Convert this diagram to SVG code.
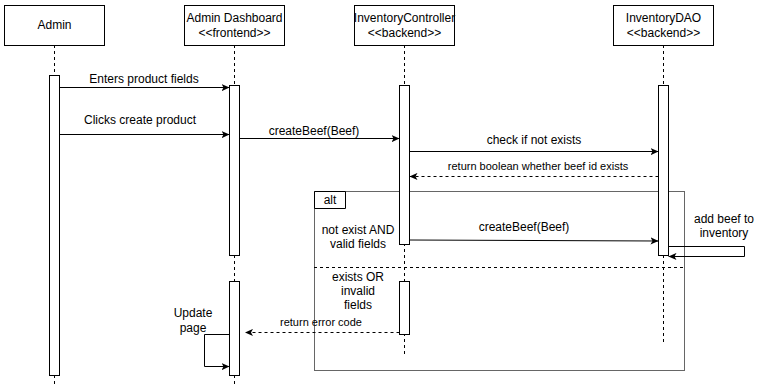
<svg xmlns="http://www.w3.org/2000/svg" width="762" height="391" viewBox="0 0 762 391">
  <defs>
    <style>
      .head{fill:#fff;stroke:#000;stroke-width:1}
      .life{fill:none;stroke:#000;stroke-width:1;stroke-dasharray:3 3}
      .act{fill:#fff;stroke:#000;stroke-width:1}
      .t{font-family:"Liberation Sans",Arial,Helvetica,sans-serif;font-size:12px;fill:#000;text-anchor:middle}
      .s{font-size:11px}
      .msg{fill:none;stroke:#000;stroke-width:1;marker-end:url(#arr)}
      .ret{fill:none;stroke:#000;stroke-width:1;stroke-dasharray:3 3;marker-end:url(#arr)}
      .frame{fill:none;stroke:#666;stroke-width:1}
      .sep{fill:none;stroke:#000;stroke-width:1;stroke-dasharray:3 3}
    </style>
    <marker id="arr" viewBox="0 0 10 10" refX="10" refY="5" markerWidth="8" markerHeight="8" markerUnits="userSpaceOnUse" orient="auto">
      <path d="M0,0.5 L10,5 L0,9.5 L2.5,5 Z" fill="#000"/>
    </marker>
  </defs>

  <!-- alt combined fragment -->
  <g id="alt-fragment">
    <rect class="frame" x="314.5" y="191.5" width="370" height="179"/>
    <path d="M314.5,191.5 H345.5 V208.5 H314.5 Z" fill="#fff" stroke="#000"/>
    <text class="t" x="330" y="204">alt</text>
    <line class="sep" x1="314" y1="267.5" x2="684" y2="267.5"/>
    <text class="t" x="358" y="234">not exist AND</text>
    <text class="t" x="358" y="248">valid fields</text>
    <text class="t" x="358" y="281">exists OR</text>
    <text class="t" x="358" y="295">invalid</text>
    <text class="t" x="358" y="309">fields</text>
  </g>

  <!-- participants -->
  <g id="admin">
    <line class="life" x1="54.5" y1="45" x2="54.5" y2="386"/>
    <rect class="head" x="4.5" y="5.5" width="100" height="40"/>
    <text class="t" x="54.5" y="29">Admin</text>
    <rect class="act" x="49.5" y="75.5" width="10" height="300"/>
  </g>

  <g id="admin-dashboard">
    <line class="life" x1="234.5" y1="45" x2="234.5" y2="386"/>
    <rect class="head" x="184.5" y="5.5" width="100" height="40"/>
    <text class="t" x="234.5" y="22">Admin Dashboard</text>
    <text class="t" x="234.5" y="37">&lt;&lt;frontend&gt;&gt;</text>
    <rect class="act" x="229.5" y="85.5" width="10" height="170"/>
    <rect class="act" x="229.5" y="281.5" width="10" height="94"/>
  </g>

  <g id="inventory-controller">
    <line class="life" x1="404.5" y1="45" x2="404.5" y2="355"/>
    <rect class="head" x="354.5" y="5.5" width="100" height="40"/>
    <text class="t" x="404.5" y="22">InventoryController</text>
    <text class="t" x="404.5" y="37">&lt;&lt;backend&gt;&gt;</text>
    <rect class="act" x="399.5" y="85.5" width="10" height="159"/>
    <rect class="act" x="399.5" y="281.5" width="10" height="53"/>
  </g>

  <g id="inventory-dao">
    <line class="life" x1="663.5" y1="45" x2="663.5" y2="343"/>
    <rect class="head" x="613.5" y="5.5" width="100" height="40"/>
    <text class="t" x="663.5" y="22">InventoryDAO</text>
    <text class="t" x="663.5" y="37">&lt;&lt;backend&gt;&gt;</text>
    <rect class="act" x="658.5" y="85.5" width="10" height="170"/>
  </g>

  <!-- messages -->
  <g id="connectors">
    <path class="msg" d="M59.5,87.5 H229.5"/>
    <text class="t" x="144" y="83">Enters product fields</text>

    <path class="msg" d="M59.5,134.5 H229.5"/>
    <text class="t" x="140" y="124">Clicks create product</text>

    <path class="msg" d="M239.5,138.5 H399.5"/>
    <text class="t" x="314" y="135">createBeef(Beef)</text>

    <path class="msg" d="M409.5,151.5 H658.5"/>
    <text class="t" x="534" y="144">check if not exists</text>

    <path class="ret" d="M658.5,176.5 H409.5"/>
    <text class="t s" x="538" y="170">return boolean whether beef id exists</text>

    <path class="msg" d="M409.5,240 L658.5,241"/>
    <text class="t" x="524" y="231">createBeef(Beef)</text>

    <path class="msg" d="M668.5,246.5 H744.5 V256.5 H668.5"/>
    <text class="t" x="724" y="223">add beef to</text>
    <text class="t" x="724" y="237">inventory</text>

    <path class="ret" d="M399.5,332.5 H245"/>
    <text class="t s" x="321" y="326">return error code</text>

    <path class="msg" d="M229.5,334.5 H204.5 V366.5 H229.5"/>
    <text class="t" x="193" y="317">Update</text>
    <text class="t" x="193" y="332">page</text>
  </g>
</svg>
